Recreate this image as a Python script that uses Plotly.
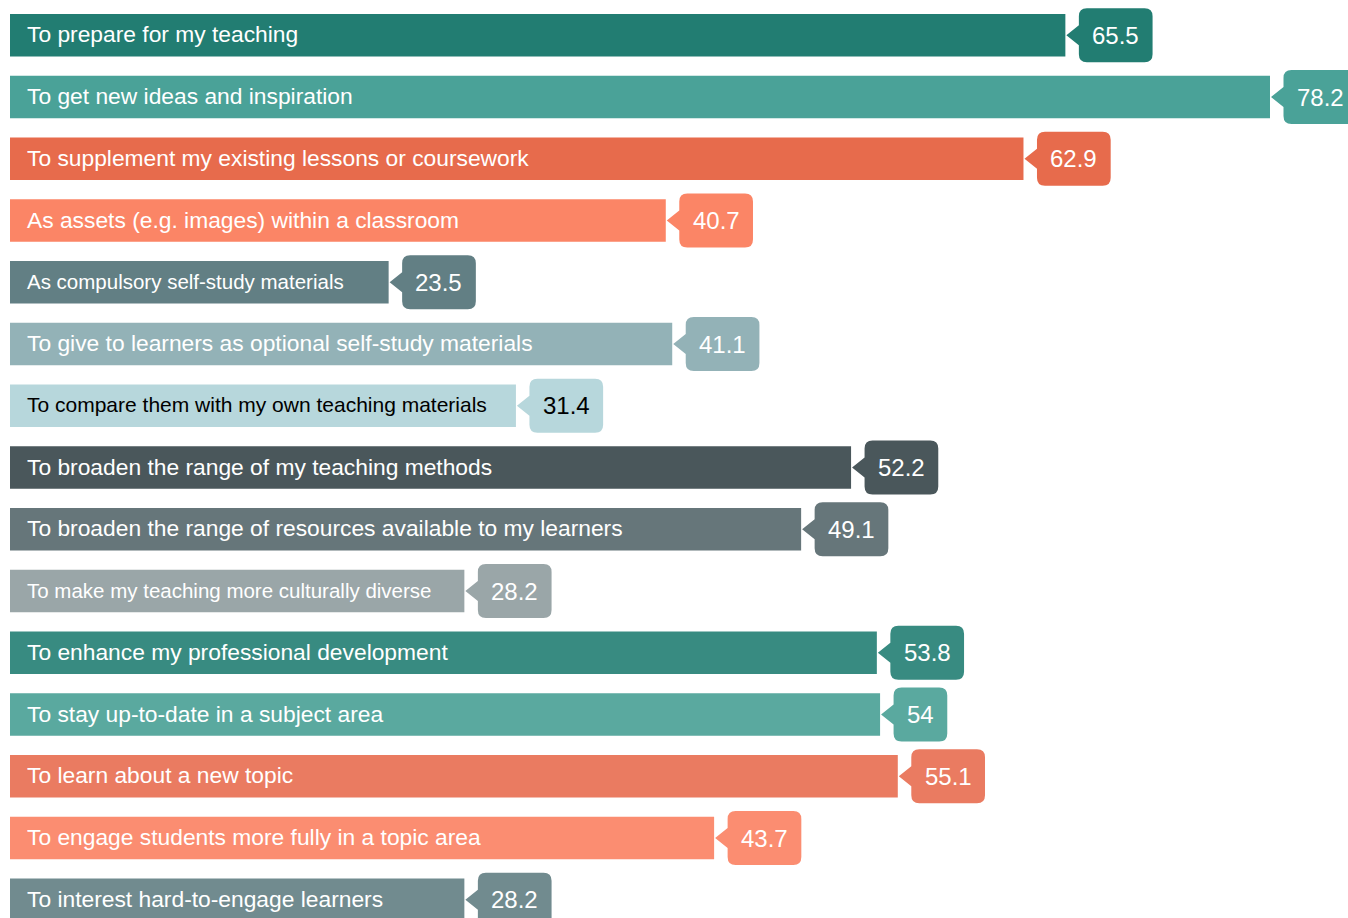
import plotly.graph_objects as go

categories = [
    "To prepare for my teaching",
    "To get new ideas and inspiration",
    "To supplement my existing lessons or coursework",
    "As assets (e.g. images) within a classroom",
    "As compulsory self-study materials",
    "To give to learners as optional self-study materials",
    "To compare them with my own teaching materials",
    "To broaden the range of my teaching methods",
    "To broaden the range of resources available to my learners",
    "To make my teaching more culturally diverse",
    "To enhance my professional development",
    "To stay up-to-date in a subject area",
    "To learn about a new topic",
    "To engage students more fully in a topic area",
    "To interest hard-to-engage learners",
]
values = [65.5, 78.2, 62.9, 40.7, 23.5, 41.1, 31.4, 52.2, 49.1, 28.2, 53.8, 54, 55.1, 43.7, 28.2]
value_labels = ["65.5", "78.2", "62.9", "40.7", "23.5", "41.1", "31.4", "52.2", "49.1", "28.2", "53.8", "54", "55.1", "43.7", "28.2"]

colors = ["#227d72", "#4aa298", "#e76b4c", "#fb8566", "#627f84", "#93b2b7", "#b7d7dc",
          "#4a575b", "#66767a", "#9aa6a8", "#388b81", "#5aa99f", "#ea7b61", "#fb8d71", "#718b8f"]
text_colors = ["white"] * 15
text_colors[6] = "black"
label_sizes = [22.8] * 15
label_sizes[4] = 20.5
label_sizes[6] = 21
label_sizes[9] = 20.5

FONT = "Liberation Sans, Arial, sans-serif"
VAL_SIZE = 24
W, H = 1348, 918
px_per_unit = 1260 / 78.2
left_px = 10
xmax = (W - left_px) / px_per_unit
slot = 61.75
c0 = 35.3
y_top = -c0 / slot
y_bot = (H - c0) / slot

def text_width(s, fs):
    w = 0
    for ch in s:
        w += 0.278 if ch == "." else 0.556
    return w * fs

ys = list(range(len(categories)))

fig = go.Figure()
fig.add_trace(go.Bar(
    x=values, y=ys, orientation="h", width=0.69,
    marker=dict(color=colors, line=dict(width=0)),
    hoverinfo="skip", showlegend=False,
))

shapes = []
annotations = []
for i, (cat, v, lab) in enumerate(zip(categories, values, value_labels)):
    annotations.append(dict(
        x=0, y=i, xref="x", yref="y", text=cat, showarrow=False,
        xanchor="left", yanchor="middle", xshift=15, yshift=1,
        font=dict(family=FONT, size=label_sizes[i], color=text_colors[i]),
    ))
    w = text_width(lab, VAL_SIZE) + 27
    L = 13.5
    R = L + w
    T, B, r = 27, -27, 8
    path = (f"M 1,0 L {L},10 L {L},{T - r} Q {L},{T} {L + r},{T} L {R - r},{T} "
            f"Q {R},{T} {R},{T - r} L {R},{B + r} Q {R},{B} {R - r},{B} "
            f"L {L + r},{B} Q {L},{B} {L},{B + r} L {L},-10 Z")
    shapes.append(dict(
        type="path", xref="x", yref="y", xsizemode="pixel", ysizemode="pixel",
        xanchor=v, yanchor=i, path=path, fillcolor=colors[i],
        line=dict(width=0), layer="above",
    ))
    annotations.append(dict(
        x=v, y=i, xref="x", yref="y", text=lab, showarrow=False,
        xanchor="center", yanchor="middle", xshift=L + w / 2, yshift=0,
        font=dict(family=FONT, size=VAL_SIZE, color=text_colors[i]),
    ))

fig.update_layout(
    width=W, height=H,
    margin=dict(l=left_px, r=0, t=0, b=0),
    paper_bgcolor="white", plot_bgcolor="white",
    xaxis=dict(range=[0, xmax], visible=False, fixedrange=True),
    yaxis=dict(range=[y_bot, y_top], visible=False, fixedrange=True),
    shapes=shapes, annotations=annotations,
    bargap=0.31,
)

fig.write_html(
    "out.html",
    config={"displayModeBar": False},
    post_script="document.body.style.margin='0';document.body.style.overflow='hidden';",
)
